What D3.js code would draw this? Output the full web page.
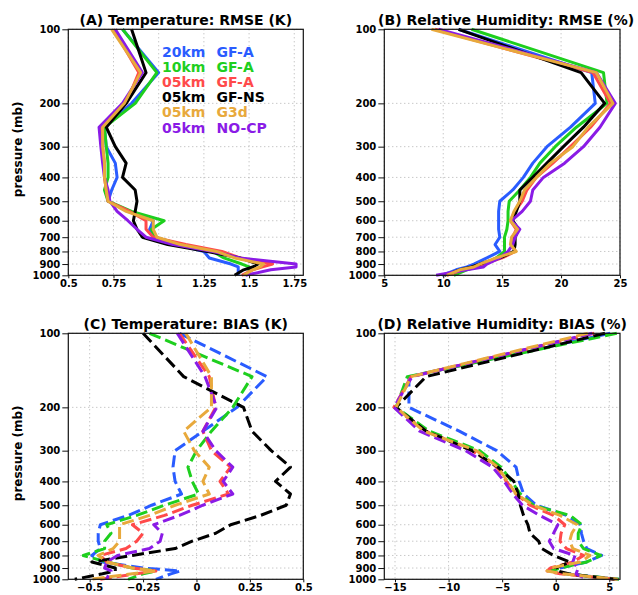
<!DOCTYPE html>
<html>
<head>
<meta charset="utf-8">
<script src="https://cdn.jsdelivr.net/npm/d3@7"></script>
<style>
  html, body { margin: 0; padding: 0; background: #fff; }
  svg { display: block; }
  text { font-family: "DejaVu Sans", sans-serif; font-weight: bold; }
</style>
</head>
<body>
<svg id="chart" width="638" height="595"></svg>
<script>
// Pressure levels (mb)
const levels = [100, 150, 200, 250, 300, 350, 400, 450, 500, 550, 600, 650, 700, 750, 800, 850, 900, 925, 950, 1000];

// Model runs: resolution and convection scheme
const runRes    = ["20km", "10km", "05km", "05km", "05km", "05km"];
const runScheme = ["GF-A", "GF-A", "GF-A", "GF-NS", "G3d", "NO-CP"];

// (A) Temperature RMSE (K), one row per run
const tempRmse = [
  [0.80, 1.00, 0.85, 0.70, 0.71, 0.76, 0.77, 0.74, 0.72, 0.83, 0.97, 0.95, 0.98, 1.10, 1.25, 1.28, 1.40, 1.44, 1.44, 1.44],
  [0.80, 0.99, 0.87, 0.70, 0.71, 0.72, 0.72, 0.70, 0.72, 0.85, 1.03, 0.96, 0.98, 1.12, 1.30, 1.36, 1.46, 1.50, 1.50, 1.50],
  [0.75, 0.89, 0.82, 0.68, 0.69, 0.70, 0.70, 0.71, 0.72, 0.84, 0.93, 0.93, 0.97, 1.15, 1.35, 1.45, 1.63, 1.57, 1.52, 1.46],
  [0.85, 0.93, 0.82, 0.71, 0.76, 0.82, 0.80, 0.87, 0.88, 0.87, 0.86, 0.88, 0.91, 1.05, 1.27, 1.45, 1.55, 1.52, 1.47, 1.42],
  [0.74, 0.90, 0.81, 0.69, 0.69, 0.70, 0.70, 0.71, 0.72, 0.82, 0.97, 0.97, 0.99, 1.12, 1.32, 1.42, 1.58, 1.56, 1.52, 1.47],
  [0.76, 0.91, 0.80, 0.67, 0.68, 0.69, 0.70, 0.72, 0.73, 0.77, 0.83, 0.88, 0.93, 1.08, 1.30, 1.45, 1.76, 1.76, 1.62, 1.48]
];

// (B) Relative humidity RMSE (%)
const rhRmse = [
  [11.3, 22.6, 22.9, 20.8, 18.8, 17.6, 16.8, 15.9, 14.8, 14.7, 14.7, 14.7, 14.8, 14.4, 14.8, 13.7, 12.6, 12.0, 11.1, 9.9],
  [12.4, 23.6, 23.9, 21.3, 19.5, 18.2, 17.4, 16.5, 15.6, 15.5, 15.5, 15.4, 15.2, 15.2, 15.2, 14.5, 13.4, 12.8, 12.0, 10.9],
  [9.3, 22.7, 24.2, 22.5, 20.8, 19.3, 17.9, 17.1, 16.7, 16.1, 15.7, 16.2, 15.9, 15.9, 16.1, 15.0, 13.4, 12.5, 11.7, 10.3],
  [11.3, 21.7, 23.7, 21.9, 20.2, 18.8, 17.6, 16.5, 16.5, 16.2, 15.9, 16.4, 16.1, 16.1, 16.0, 14.8, 13.1, 12.4, 11.4, 10.1],
  [9.0, 23.0, 24.4, 22.3, 21.0, 19.1, 17.9, 16.9, 16.5, 16.0, 15.7, 16.3, 15.8, 15.7, 16.2, 14.5, 13.1, 12.6, 11.4, 10.3],
  [9.6, 23.0, 24.6, 23.3, 21.9, 20.3, 18.5, 17.6, 17.4, 16.7, 15.8, 16.5, 16.1, 15.9, 15.5, 14.8, 13.7, 13.4, 12.0, 9.4]
];

// (C) Temperature bias (K)
const tempBias = [
  [-0.08, 0.33, 0.19, 0.03, -0.10, -0.11, -0.10, -0.07, -0.21, -0.32, -0.45, -0.46, -0.46, -0.45, -0.49, -0.44, -0.25, -0.075, -0.12, -0.19],
  [-0.22, 0.26, 0.17, 0.07, 0.00, -0.04, -0.02, 0.01, -0.15, -0.28, -0.42, -0.40, -0.43, -0.43, -0.53, -0.42, -0.30, -0.19, -0.25, -0.32],
  [-0.08, 0.06, 0.09, 0.03, 0.07, 0.16, 0.11, 0.15, -0.02, -0.15, -0.30, -0.25, -0.28, -0.33, -0.45, -0.42, -0.30, -0.19, -0.28, -0.45],
  [-0.25, -0.06, 0.22, 0.26, 0.35, 0.44, 0.37, 0.44, 0.42, 0.30, 0.16, 0.09, -0.02, -0.10, -0.30, -0.49, -0.38, -0.38, -0.44, -0.57],
  [-0.05, 0.07, 0.07, -0.06, -0.01, 0.06, 0.03, 0.06, -0.10, -0.22, -0.36, -0.36, -0.36, -0.39, -0.46, -0.42, -0.30, -0.19, -0.30, -0.50],
  [-0.09, 0.04, 0.095, 0.03, 0.09, 0.17, 0.125, 0.17, 0.03, -0.08, -0.20, -0.16, -0.17, -0.22, -0.37, -0.42, -0.43, -0.40, -0.41, -0.42]
];

// (D) Relative humidity bias (%)
const rhBias = [
  [5.1, -13.7, -13.7, -9.0, -5.5, -3.7, -3.4, -3.0, -1.8, 1.0, 2.3, 2.4, 2.6, 2.9, 4.3, 2.9, 0.4, -0.5, 1.0, 5.9],
  [5.7, -13.85, -14.9, -11.8, -7.1, -5.1, -4.1, -3.3, -2.1, 1.35, 2.44, 2.1, 2.1, 2.6, 4.2, 2.9, 0.4, -0.5, 1.0, 5.9],
  [3.6, -13.5, -15.1, -12.1, -7.8, -5.5, -4.6, -3.7, -2.4, -0.2, 0.85, 0.5, 0.4, 1.0, 2.6, 1.6, -0.5, -0.8, 0.4, 5.6],
  [4.6, -12.1, -14.9, -12.1, -7.8, -5.4, -3.9, -3.5, -3.3, -3.0, -2.6, -2.4, -1.6, -1.3, -0.2, 1.3, 0.0, 0.2, 1.2, 5.5],
  [3.0, -13.5, -14.9, -12.3, -7.4, -5.4, -4.5, -3.7, -2.1, 0.4, 2.0, 1.5, 1.3, 1.6, 3.2, 2.3, -0.5, -0.8, 0.7, 5.8],
  [3.4, -13.4, -15.1, -12.7, -8.4, -5.9, -4.8, -4.0, -3.1, -1.5, 0.2, -0.2, -0.6, -0.2, 1.8, 1.6, 2.1, 2.0, 1.9, 2.9]
];

// Axis ticks
const pressureTicks = [100, 200, 300, 400, 500, 600, 700, 800, 900, 1000];
const tempRmseTicks = [0.5, 0.75, 1, 1.25, 1.5, 1.75];
const rhRmseTicks   = [5, 10, 15, 20, 25];
const tempBiasTicks = [-0.5, -0.25, 0, 0.25, 0.5];
const rhBiasTicks   = [-15, -10, -5, 0, 5];

// Line colours per run, and drawing order (G3d on top)
const runColors = ["#2a5cff", "#1ecf1e", "#ff4a4a", "#000000", "#e8a93c", "#8a1be6"];
const drawOrder = [0, 1, 2, 3, 5, 4];

const svg = d3.select("#chart");
svg.append("rect").attr("width", 638).attr("height", 595).attr("fill", "#fff");

const cols = [{ x0: 68.3, x1: 303.3 }, { x0: 384.3, x1: 620 }];
const rows = [{ y0: 29.3, y1: 275.3 }, { y0: 333.3, y1: 579.3 }];

const panels = [
  { title: "(A) Temperature: RMSE (K)",        data: tempRmse, domain: [0.5, 1.8], ticks: tempRmseTicks, dashed: false, col: 0, row: 0, legend: true, shift: 0 },
  { title: "(B) Relative Humidity: RMSE (%)",  data: rhRmse,   domain: [5, 25],    ticks: rhRmseTicks,   dashed: false, col: 1, row: 0, shift: 4 },
  { title: "(C) Temperature: BIAS (K)",        data: tempBias, domain: [-0.6, 0.5], ticks: tempBiasTicks, dashed: true, col: 0, row: 1, shift: 0 },
  { title: "(D) Relative Humidity: BIAS (%)",  data: rhBias,   domain: [-16, 6],   ticks: rhBiasTicks,   dashed: true,  col: 1, row: 1, shift: 0 }
];

const fmt = v => String(v).replace("-", "\u2212");

panels.forEach(p => {
  const c = cols[p.col], r = rows[p.row];
  const x = d3.scaleLinear().domain(p.domain).range([c.x0, c.x1]);
  const y = d3.scaleLog().domain([100, 1000]).range([r.y0, r.y1]);
  const g = svg.append("g");

  // dotted grid
  const grid = g.append("g").attr("stroke", "#b0b0b0").attr("stroke-width", 1).attr("stroke-dasharray", "1,3");
  grid.selectAll("line.gx").data(p.ticks).join("line")
    .attr("x1", d => x(d)).attr("x2", d => x(d)).attr("y1", r.y0).attr("y2", r.y1);
  grid.selectAll("line.gy").data(pressureTicks).join("line")
    .attr("x1", c.x0).attr("x2", c.x1).attr("y1", d => y(d)).attr("y2", d => y(d));

  // profiles
  const line = d3.line().x(d => x(d[0])).y(d => y(d[1]));
  const clipId = "clip" + p.col + p.row;
  svg.append("clipPath").attr("id", clipId).append("rect")
    .attr("x", c.x0).attr("y", r.y0 - 2).attr("width", c.x1 - c.x0 + 2).attr("height", r.y1 - r.y0 + 4);
  const lines = g.append("g").attr("clip-path", `url(#${clipId})`);
  drawOrder.forEach(i => {
    const pts = p.data[i].map((v, k) => [v, levels[k]]);
    lines.append("path").attr("d", line(pts))
      .attr("fill", "none").attr("stroke", runColors[i]).attr("stroke-width", 3)
      .attr("stroke-linejoin", "round")
      .attr("stroke-dasharray", p.dashed ? "12,5" : null);
  });

  // frame
  g.append("rect").attr("x", c.x0).attr("y", r.y0).attr("width", c.x1 - c.x0).attr("height", r.y1 - r.y0)
    .attr("fill", "none").attr("stroke", "#111").attr("stroke-width", 1.2);

  // axes
  const xa = g.append("g").attr("transform", `translate(0,${r.y1})`)
    .call(d3.axisBottom(x).tickValues(p.ticks).tickSize(3).tickPadding(2).tickFormat(fmt));
  const ya = g.append("g").attr("transform", `translate(${c.x0},0)`)
    .call(d3.axisLeft(y).tickValues(pressureTicks).tickSize(6).tickPadding(2).tickFormat(d => String(d)));
  [xa, ya].forEach(a => {
    a.select(".domain").remove();
    a.selectAll("line").attr("stroke", "#111");
    a.selectAll("text").attr("font-family", "DejaVu Sans").attr("font-weight", "bold")
      .attr("font-size", 10).attr("fill", "#000");
  });

  // title
  g.append("text").attr("x", (c.x0 + c.x1) / 2 + p.shift).attr("y", r.y0 - 4)
    .attr("text-anchor", "middle").attr("font-size", 14).attr("fill", "#000").text(p.title);

  // vertical axis title on the left column
  if (p.col === 0) {
    const cy = (r.y0 + r.y1) / 2 - 3;
    g.append("text").attr("transform", `translate(22,${cy}) rotate(-90)`)
      .attr("text-anchor", "middle").attr("font-size", 12).attr("fill", "#000").text("pressure (mb)");
  }

  // legend
  if (p.legend) {
    runRes.forEach((res, i) => {
      const ly = 57 + i * 15.1;
      g.append("text").attr("x", 162).attr("y", ly).attr("font-size", 14).attr("fill", runColors[i]).text(res);
      g.append("text").attr("x", 216.5).attr("y", ly).attr("font-size", 14).attr("fill", runColors[i]).text(runScheme[i]);
    });
  }
});
</script>
</body>
</html>
